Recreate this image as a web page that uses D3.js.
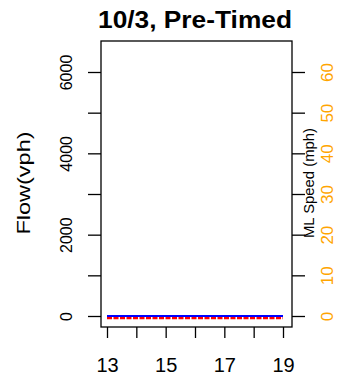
<!DOCTYPE html>
<html><head><meta charset="utf-8">
<script src="https://cdn.jsdelivr.net/npm/d3@7/dist/d3.min.js"></script>
<style>body{margin:0;background:#fff}svg{display:block}text{font-family:"Liberation Sans",Arial,Helvetica,sans-serif}</style>
</head><body>
<svg id="c" width="339" height="380"></svg>
<script>
const title = "10/3, Pre-Timed";
const hours = [13, 13.5, 14, 14.5, 15, 15.5, 16, 16.5, 17, 17.5, 18, 18.5, 19];
const flowVph = [0, 0, 0, 0, 0, 0, 0, 0, 0, 0, 0, 0, 0];
const speedMph = [-0.5, -0.5, -0.5, -0.5, -0.5, -0.5, -0.5, -0.5, -0.5, -0.5, -0.5, -0.5, -0.5];
const xTicks = [13, 14, 15, 16, 17, 18, 19];
const xLabels = [13, 15, 17, 19];
const flowTicks = [0, 1000, 2000, 3000, 4000, 5000, 6000];
const flowLabels = [0, 2000, 4000, 6000];
const speedTicks = [0, 10, 20, 30, 40, 50, 60];

const svg = d3.select("#c");
const box = {l: 101, r: 292, t: 41, b: 327};
const x = d3.scaleLinear().domain([13, 19]).range([107, 283]);
const yF = d3.scaleLinear().domain([0, 6000]).range([316, 72]);
const yS = d3.scaleLinear().domain([0, 60]).range([316, 72]);

// title
svg.append("text").attr("x", 195).attr("y", 28).attr("text-anchor", "middle")
  .attr("font-size", 23).attr("font-weight", "bold")
  .attr("textLength", 194).attr("lengthAdjust", "spacingAndGlyphs").text(title);

// left axis
const gl = svg.append("g").attr("transform", `translate(${box.l},0)`)
  .call(d3.axisLeft(yF).tickValues(flowTicks).tickSize(13)
    .tickFormat(d => flowLabels.includes(d) ? d : ""));
gl.select(".domain").remove();
gl.selectAll("line").attr("stroke", "#000").attr("stroke-width", 1.3);
gl.selectAll("text").attr("font-size", 16).attr("fill", "#000")
  .attr("x", 0).attr("y", 0).attr("dy", 0).attr("text-anchor", "middle")
  .attr("transform", `translate(${72 - box.l},0) rotate(-90)`);

// right axis
const gr = svg.append("g").attr("transform", `translate(${box.r},0)`)
  .call(d3.axisRight(yS).tickValues(speedTicks).tickSize(13));
gr.select(".domain").remove();
gr.selectAll("line").attr("stroke", "#000").attr("stroke-width", 1.3);
gr.selectAll("text").attr("font-size", 17).attr("fill", "#FFA500")
  .attr("x", 0).attr("y", 0).attr("dy", 0).attr("text-anchor", "middle")
  .attr("transform", `translate(${333 - box.r},0) rotate(-90)`);

// bottom axis
const gb = svg.append("g").attr("transform", `translate(0,${box.b})`)
  .call(d3.axisBottom(x).tickValues(xTicks).tickSize(11)
    .tickFormat(d => xLabels.includes(d) ? d : ""));
gb.select(".domain").remove();
gb.selectAll("line").attr("stroke", "#000").attr("stroke-width", 1.3);
gb.selectAll("text").attr("font-size", 20).attr("fill", "#000")
  .attr("y", 45).attr("dy", 0);

// box
svg.append("rect").attr("x", box.l).attr("y", box.t)
  .attr("width", box.r - box.l).attr("height", box.b - box.t)
  .attr("fill", "none").attr("stroke", "#000").attr("stroke-width", 1.3);

// axis titles
svg.append("text").attr("transform", "translate(30,183) rotate(-90)")
  .attr("text-anchor", "middle").attr("font-size", 19)
  .attr("textLength", 103).attr("lengthAdjust", "spacingAndGlyphs").text("Flow(vph)");
svg.append("text").attr("transform", "translate(314,183) rotate(-90)")
  .attr("text-anchor", "middle").attr("font-size", 15)
  .attr("textLength", 110).attr("lengthAdjust", "spacingAndGlyphs").text("ML Speed (mph)");

// lines
svg.append("path").datum(hours.map((h, i) => [h, flowVph[i]]))
  .attr("fill", "none").attr("stroke", "#0000FF").attr("stroke-width", 2)
  .attr("d", d3.line().x(d => x(d[0])).y(d => yF(d[1])));
svg.append("path").datum(hours.map((h, i) => [h, speedMph[i]]))
  .attr("fill", "none").attr("stroke", "#FF0000").attr("stroke-width", 2.2)
  .attr("stroke-dasharray", "5,1.5")
  .attr("d", d3.line().x(d => x(d[0])).y(d => yS(d[1])));
</script>
</body></html>
